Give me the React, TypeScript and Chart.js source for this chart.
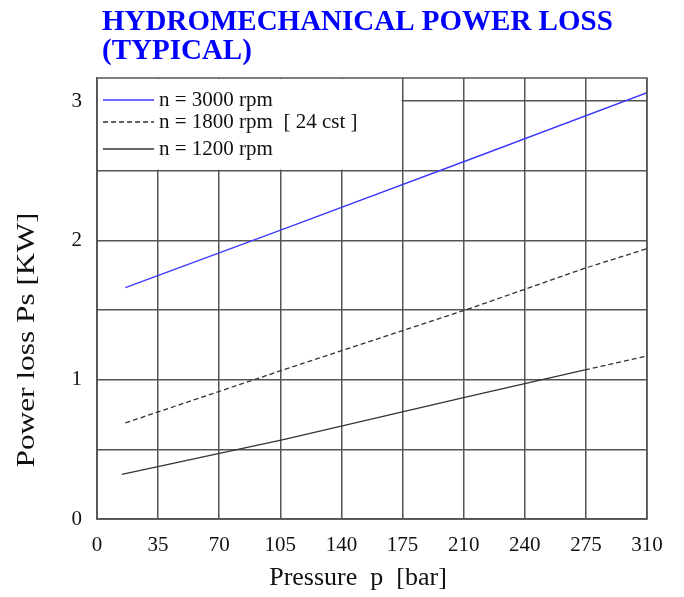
import React, { useEffect, useRef } from 'react';
import { Chart, registerables } from 'chart.js';

Chart.register(...registerables);

const TITLE_LINES = ['HYDROMECHANICAL POWER LOSS', '(TYPICAL)'];
const X_TITLE = 'Pressure  p  [bar]';
const Y_TITLE = 'Power loss Ps [KW]';
const X_TICK_LABELS = ['0', '35', '70', '105', '140', '175', '210', '240', '275', '310'];
const Y_TICK_LABELS = ['0', '1', '2', '3'];
const SERIES_NAMES = ['n = 3000 rpm', 'n = 1800 rpm  [ 24 cst ]', 'n = 1200 rpm'];

// pressure [bar] / power loss [kW]
const P_3000 = [16, 105, 210, 310];
const PS_3000 = [1.66, 2.08, 2.58, 3.06];

const P_1800 = [16, 105, 210, 275, 310];
const PS_1800 = [0.69, 1.07, 1.51, 1.8, 1.94];

const P_1200 = [14, 105, 206, 275];
const PS_1200 = [0.32, 0.57, 0.87, 1.07];
const P_1200_EXT = [275, 310];
const PS_1200_EXT = [1.07, 1.17];

const X_MAX = 310;
const Y_MAX = 3.165;

const SERIF = '"Liberation Serif", "Times New Roman", serif';
const BLUE = '#3b3bff';
const DARK = '#333333';
const GRID = '#555555';

const pts = (xs: number[], ys: number[]) => xs.map((x, i) => ({ x, y: ys[i] }));

const LEGEND_STYLES = [
  { color: BLUE, dash: [] as number[] },
  { color: DARK, dash: [5, 3] },
  { color: DARK, dash: [] as number[] },
];

const decorPlugin = {
  id: 'decor',
  beforeDatasetsDraw(chart: any) {
    const { ctx, chartArea, scales } = chart;
    const xs = scales.x;
    const ys = scales.y;
    const xRight = xs.getPixelForValue(xs.ticks[5].value);
    const yBottom = ys.getPixelForValue(2.5);
    ctx.save();
    ctx.fillStyle = '#ffffff';
    ctx.fillRect(chartArea.left + 1, chartArea.top + 1, xRight - chartArea.left - 2, yBottom - chartArea.top - 2);
    // legend
    const rowsY = [chartArea.top + 22, chartArea.top + 44, chartArea.top + 71];
    ctx.font = `21px ${SERIF}`;
    ctx.textBaseline = 'middle';
    ctx.textAlign = 'left';
    SERIES_NAMES.forEach((name, i) => {
      const y = rowsY[i];
      const st = LEGEND_STYLES[i];
      ctx.beginPath();
      ctx.strokeStyle = st.color;
      ctx.lineWidth = 1.3;
      ctx.setLineDash(st.dash);
      ctx.moveTo(chartArea.left + 6, y);
      ctx.lineTo(chartArea.left + 57, y);
      ctx.stroke();
      ctx.setLineDash([]);
      ctx.fillStyle = '#111';
      ctx.fillText(name, chartArea.left + 62, y);
    });
    ctx.restore();
  },
  afterDraw(chart: any) {
    const { ctx, chartArea } = chart;
    ctx.save();
    // frame
    ctx.strokeStyle = GRID;
    ctx.lineWidth = 1.5;
    ctx.strokeRect(chartArea.left, chartArea.top, chartArea.right - chartArea.left, chartArea.bottom - chartArea.top);
    // main title
    ctx.fillStyle = '#0000ff';
    ctx.font = `bold 29px ${SERIF}`;
    ctx.textBaseline = 'alphabetic';
    ctx.textAlign = 'left';
    ctx.fillText(TITLE_LINES[0], 102, 30);
    ctx.fillText(TITLE_LINES[1], 102, 59);
    // x title
    ctx.fillStyle = '#111';
    ctx.font = `26px ${SERIF}`;
    ctx.textAlign = 'center';
    ctx.textBaseline = 'alphabetic';
    ctx.fillText(X_TITLE, 358, 585);
    // y title (stretched to its length in the reference)
    ctx.font = `25px ${SERIF}`;
    ctx.textAlign = 'center';
    ctx.textBaseline = 'middle';
    const w = ctx.measureText(Y_TITLE).width;
    const target = 255;
    ctx.translate(27, 340);
    ctx.rotate(-Math.PI / 2);
    ctx.scale(target / w, 1);
    ctx.fillText(Y_TITLE, 0, 0);
    ctx.restore();
  },
};

export default function App() {
  const ref = useRef<HTMLCanvasElement | null>(null);
  useEffect(() => {
    const prevMargin = document.body.style.margin;
    document.body.style.margin = '0';
    if (!ref.current) return;
    const chart = new Chart(ref.current, {
      type: 'line',
      data: {
        datasets: [
          { label: SERIES_NAMES[0], data: pts(P_3000, PS_3000), borderColor: BLUE, borderWidth: 1.4, pointRadius: 0, fill: false },
          { label: SERIES_NAMES[1], data: pts(P_1800, PS_1800), borderColor: DARK, borderWidth: 1.3, borderDash: [5, 3], pointRadius: 0, fill: false },
          { label: SERIES_NAMES[2], data: pts(P_1200, PS_1200), borderColor: DARK, borderWidth: 1.3, pointRadius: 0, fill: false },
          { label: 'ext', data: pts(P_1200_EXT, PS_1200_EXT), borderColor: DARK, borderWidth: 1.3, borderDash: [5, 3], pointRadius: 0, fill: false },
        ],
      },
      options: {
        animation: false,
        responsive: false,
        layout: { padding: { top: 78, right: 37, left: 0, bottom: 0 } },
        plugins: { legend: { display: false }, tooltip: { enabled: false }, title: { display: false } },
        scales: {
          x: {
            type: 'linear',
            min: 0,
            max: X_MAX,
            afterBuildTicks: (s: any) => {
              s.ticks = X_TICK_LABELS.map((_, i) => ({ value: (i * X_MAX) / (X_TICK_LABELS.length - 1) }));
            },
            afterFit: (s: any) => { s.height = 78; },
            grid: { color: GRID, lineWidth: 1.5, drawTicks: false },
            border: { color: GRID, width: 1.5 },
            ticks: {
              padding: 14,
              color: '#111',
              font: { family: SERIF, size: 21 },
              maxRotation: 0,
              autoSkip: false,
              callback: (_v: any, i: number) => X_TICK_LABELS[i],
            },
            title: { display: false },
          },
          y: {
            type: 'linear',
            min: 0,
            max: Y_MAX,
            afterFit: (s: any) => { s.width = 97; },
            grid: { color: GRID, lineWidth: 1.5, drawTicks: false },
            border: { color: GRID, width: 1.5 },
            ticks: {
              stepSize: 0.5,
              includeBounds: false,
              padding: 15,
              color: '#111',
              font: { family: SERIF, size: 21 },
              callback: (v: any) => (Number.isInteger(v) ? Y_TICK_LABELS[v] : ''),
            },
            title: { display: false },
          },
        },
      },
      plugins: [decorPlugin],
    } as any);
    return () => {
      chart.destroy();
      document.body.style.margin = prevMargin;
    };
  }, []);
  return <canvas ref={ref} width={684} height={597} style={{ display: 'block' }} />;
}
